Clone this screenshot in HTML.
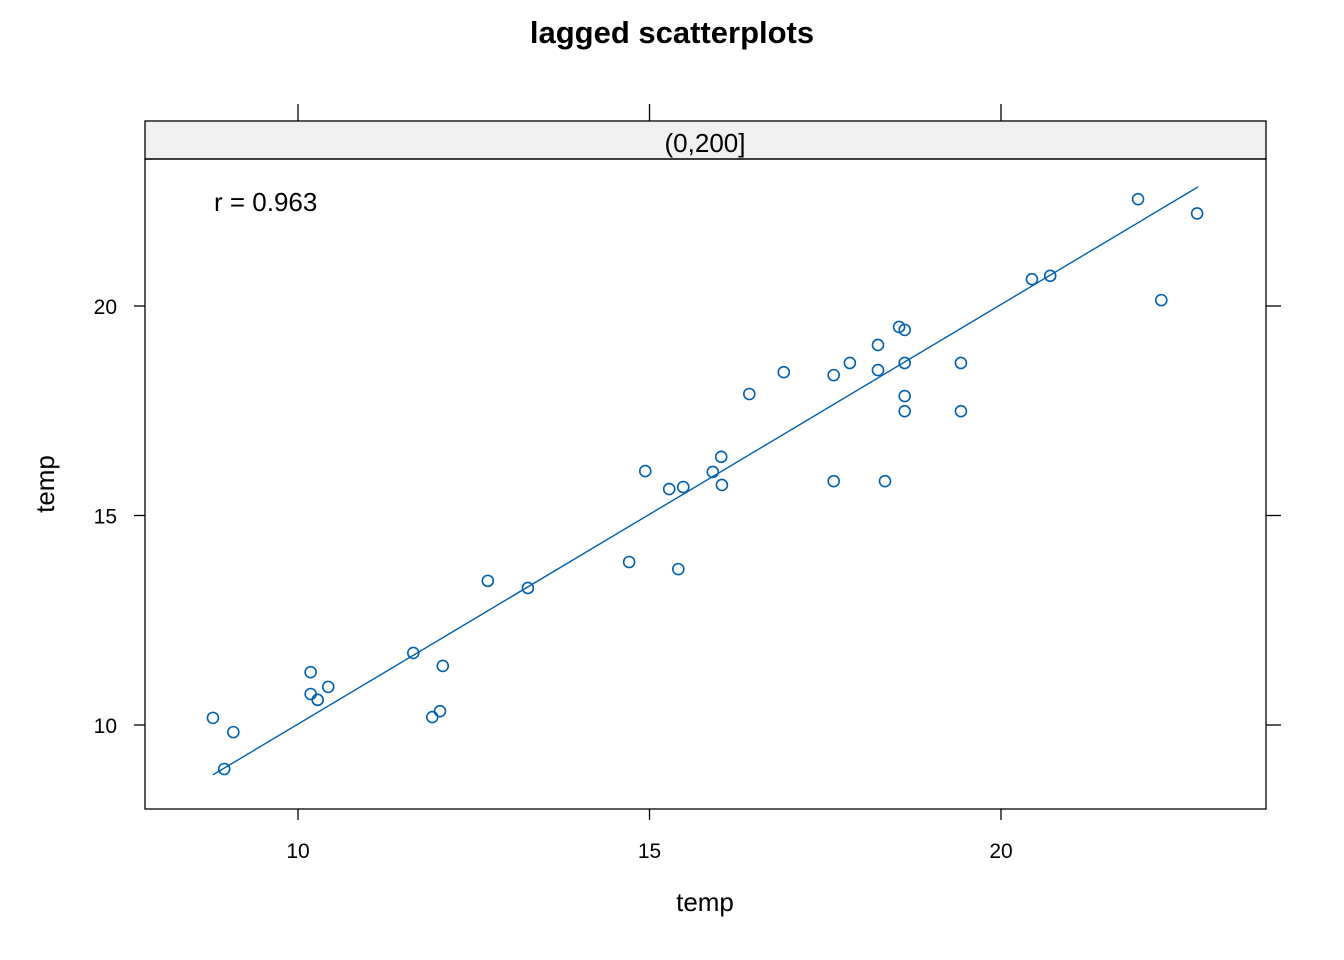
<!DOCTYPE html>
<html><head><meta charset="utf-8"><style>
html,body{margin:0;padding:0;background:#fff;}
svg{display:block;font-family:"Liberation Sans",Arial,sans-serif;}
</style></head><body>
<svg id="chart" width="1344" height="960" viewBox="0 0 1344 960">
<text x="672" y="43" text-anchor="middle" font-size="31" font-weight="bold">lagged scatterplots</text>
<rect x="145" y="121" width="1121" height="38" fill="#f0f0f0" stroke="#000" stroke-width="1.3"/>
<text x="705" y="152" text-anchor="middle" font-size="26">(0,200]</text>
<rect x="145" y="159" width="1121" height="650" fill="none" stroke="#000" stroke-width="1.3"/>
<text x="214" y="211" font-size="26">r = 0.963</text>
<g id="axes"></g>
<g id="marks"></g>
<text x="705" y="911" text-anchor="middle" font-size="26">temp</text>
<text x="0" y="0" transform="translate(54,484) rotate(-90)" text-anchor="middle" font-size="26">temp</text>
</svg>
<script>
const xValues=[8.79,9.08,8.95,10.18,10.18,10.28,10.43,11.64,12.06,11.91,12.02,12.70,13.27,14.71,15.41,14.94,15.28,15.48,15.90,16.02,16.03,16.42,16.91,17.62,17.62,17.85,18.25,18.25,18.35,18.55,18.63,18.63,18.63,18.63,19.43,19.43,20.44,20.70,21.95,22.28,22.79];
const yValues=[10.17,9.83,8.95,11.26,10.74,10.60,10.91,11.72,11.41,10.19,10.33,13.44,13.27,13.89,13.72,16.06,15.63,15.68,16.04,16.40,15.73,17.90,18.42,18.35,15.82,18.64,19.07,18.47,15.82,19.50,19.43,18.64,17.85,17.49,18.64,17.49,20.64,20.72,22.55,20.14,22.21];
const lineX=[8.79,22.80];
const lineY=[8.81,22.84];
const xTicks=[10,15,20];
const yTicks=[10,15,20];
const NS="http://www.w3.org/2000/svg";
function xs(v){return 298+(v-10)*70.3;}
function ys(v){return 725-(v-10)*41.9;}
function mk(tag,attrs,parent){const e=document.createElementNS(NS,tag);for(const k in attrs)e.setAttribute(k,attrs[k]);parent.appendChild(e);return e;}
const axes=document.getElementById('axes'),marks=document.getElementById('marks');
xTicks.forEach(t=>{
  const x=xs(t);
  const a=mk('line',{x1:x,x2:x,y1:809,y2:820,stroke:'#000','stroke-width':1.3},axes);
  
  
  const b=mk('line',{x1:x,x2:x,y1:121,y2:104,stroke:'#000','stroke-width':1.3},axes);
  
  
  const l=mk('text',{x:x,y:858,'text-anchor':'middle','font-size':21},axes);
  l.textContent=t;
  
  
});
yTicks.forEach(t=>{
  const y=ys(t);
  const a=mk('line',{x1:145,x2:134,y1:y,y2:y,stroke:'#000','stroke-width':1.3},axes);
  
  
  const b=mk('line',{x1:1266,x2:1281,y1:y,y2:y,stroke:'#000','stroke-width':1.3},axes);
  
  
  const l=mk('text',{x:117,y:y+8,'text-anchor':'end','font-size':21},axes);
  l.textContent=t;
  
  
});
const rl=mk('line',{x1:xs(lineX[0]),y1:ys(lineY[0]),x2:xs(lineX[1]),y2:ys(lineY[1]),stroke:'#0060ad','stroke-width':1.4},marks);


for(let i=0;i<xValues.length;i++){
  const c=mk('circle',{cx:xs(xValues[i]),cy:ys(yValues[i]),r:5.5,fill:'none',stroke:'#0060ad','stroke-width':1.6},marks);
  
  
}
</script>
</body></html>
